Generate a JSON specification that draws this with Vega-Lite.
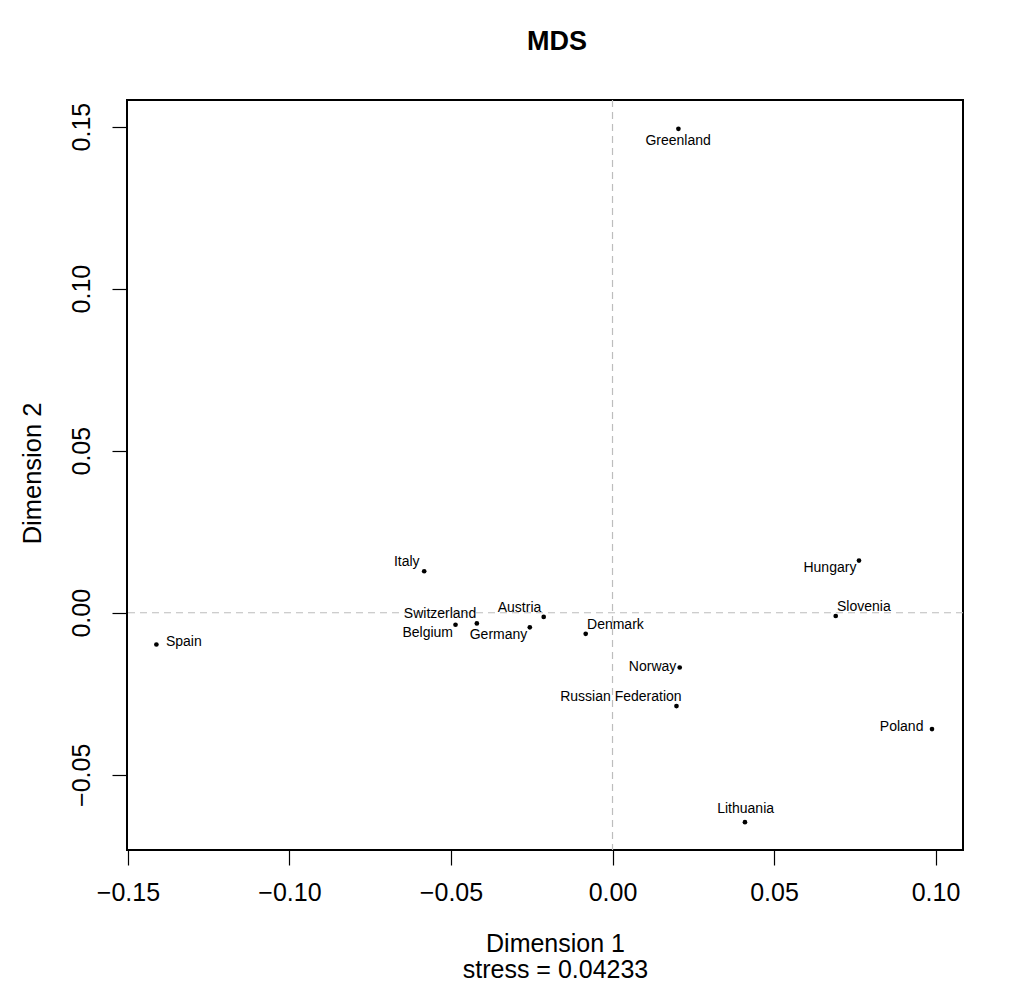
{
  "$schema": "https://vega.github.io/schema/vega-lite/v6.json",
  "width": 836,
  "height": 750,
  "autosize": {"type": "none"},
  "padding": {"left": 127, "top": 100, "right": 47, "bottom": 144},
  "background": "white",
  "config": {
    "font": "Liberation Sans",
    "view": {"stroke": "black", "strokeWidth": 2}
  },
  "title": {
    "text": "MDS",
    "fontSize": 27,
    "fontWeight": "bold",
    "font": "Liberation Sans",
    "anchor": "middle",
    "frame": "group",
    "baseline": "alphabetic",
    "offset": 22,
    "dx": 12,
    "color": "black"
  },
  "data": {
    "values": [
      {"country": "Greenland", "dim1": 0.0204, "dim2": 0.1493, "lx": 0.0203, "ly": 0.1454},
      {"country": "Italy", "dim1": -0.0583, "dim2": 0.0128, "lx": -0.0637, "ly": 0.0157},
      {"country": "Switzerland", "dim1": -0.0420, "dim2": -0.0033, "lx": -0.0534, "ly": -0.0004},
      {"country": "Belgium", "dim1": -0.0486, "dim2": -0.0037, "lx": -0.0572, "ly": -0.0063},
      {"country": "Austria", "dim1": -0.0213, "dim2": -0.0013, "lx": -0.0288, "ly": 0.0014},
      {"country": "Germany", "dim1": -0.0256, "dim2": -0.0045, "lx": -0.0353, "ly": -0.0069},
      {"country": "Denmark", "dim1": -0.0083, "dim2": -0.0065, "lx": 0.0009, "ly": -0.0038},
      {"country": "Norway", "dim1": 0.0208, "dim2": -0.0169, "lx": 0.0124, "ly": -0.0167},
      {"country": "Russian Federation", "dim1": 0.0198, "dim2": -0.0288, "lx": 0.0026, "ly": -0.0260},
      {"country": "Lithuania", "dim1": 0.0410, "dim2": -0.0646, "lx": 0.0412, "ly": -0.0604},
      {"country": "Hungary", "dim1": 0.0763, "dim2": 0.0161, "lx": 0.0673, "ly": 0.0137},
      {"country": "Slovenia", "dim1": 0.0691, "dim2": -0.0010, "lx": 0.0778, "ly": 0.0019},
      {"country": "Poland", "dim1": 0.0989, "dim2": -0.0359, "lx": 0.0895, "ly": -0.0353},
      {"country": "Spain", "dim1": -0.1412, "dim2": -0.0098, "lx": -0.1327, "ly": -0.0091}
    ]
  },
  "layer": [
    {
      "data": {"values": [{}]},
      "mark": {"type": "rule", "color": "#bdbdbd", "strokeDash": [7, 5], "strokeWidth": 1.2},
      "encoding": {"x": {"datum": 0, "type": "quantitative"}}
    },
    {
      "data": {"values": [{}]},
      "mark": {"type": "rule", "color": "#bdbdbd", "strokeDash": [7, 5], "strokeWidth": 1.2},
      "encoding": {"y": {"datum": 0, "type": "quantitative"}}
    },
    {
      "mark": {"type": "circle", "size": 22, "color": "black", "opacity": 1},
      "encoding": {
        "x": {
          "field": "dim1",
          "type": "quantitative",
          "scale": {"domain": [-0.1503, 0.1085], "nice": false, "zero": false},
          "axis": {
            "values": [-0.15, -0.1, -0.05, 0, 0.05, 0.1],
            "format": ".2f",
            "grid": false,
            "domain": false,
            "tickSize": 15,
            "tickColor": "black",
            "tickWidth": 1.2,
            "labelFontSize": 25,
            "labelColor": "black",
            "labelBaseline": "alphabetic",
            "labelPadding": 35,
            "labelFlush": false,
            "labelOverlap": false,
            "title": ["Dimension 1", "stress = 0.04233"],
            "titleFontSize": 25,
            "titleFontWeight": "normal",
            "titleColor": "black",
            "titleBaseline": "alphabetic",
            "titleX": 428,
            "titleY": 101,
            "titleLineHeight": 26
          }
        },
        "y": {
          "field": "dim2",
          "type": "quantitative",
          "scale": {"domain": [-0.0732, 0.1582], "nice": false, "zero": false},
          "axis": {
            "values": [-0.05, 0, 0.05, 0.1, 0.15],
            "format": ".2f",
            "grid": false,
            "domain": false,
            "tickSize": 15,
            "tickColor": "black",
            "tickWidth": 1.2,
            "labelFontSize": 25,
            "labelColor": "black",
            "labelAngle": 270,
            "labelAlign": "center",
            "labelBaseline": "alphabetic",
            "labelPadding": 23,
            "labelFlush": false,
            "labelOverlap": false,
            "title": "Dimension 2",
            "titleFontSize": 25.5,
            "titleFontWeight": "normal",
            "titleColor": "black",
            "titleAngle": 270,
            "titleAlign": "center",
            "titleBaseline": "alphabetic",
            "titleX": -87,
            "titleY": 373
          }
        }
      }
    },
    {
      "mark": {"type": "text", "fontSize": 14, "align": "center", "baseline": "middle", "color": "black"},
      "encoding": {
        "x": {"field": "lx", "type": "quantitative"},
        "y": {"field": "ly", "type": "quantitative"},
        "text": {"field": "country"}
      }
    }
  ]
}
